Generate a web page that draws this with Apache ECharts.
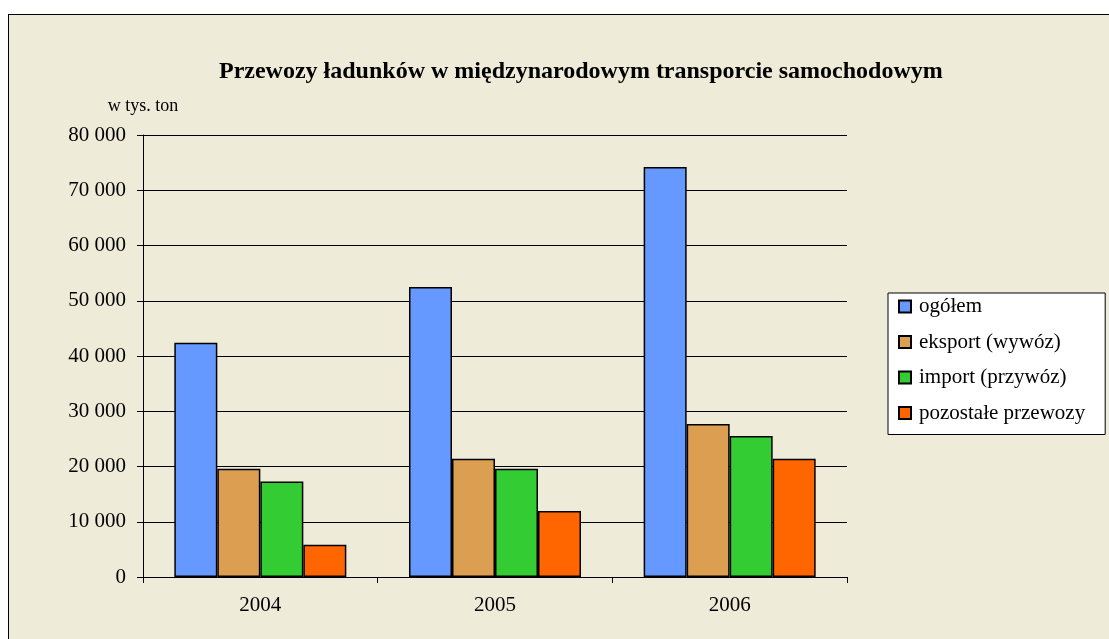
<!DOCTYPE html>
<html>
<head>
<meta charset="utf-8">
<script src="https://cdn.jsdelivr.net/npm/echarts@6/dist/echarts.min.js"></script>
<style>
    html, body { margin: 0; padding: 0; background: #fff; overflow: hidden; }
    #frame { position: absolute; left: 8px; top: 14px; width: 1120px; height: 640px;
             border: 1px solid #000; background: #EFEBD9; }
    #main { position: absolute; left: 0; top: 0; width: 1109px; height: 639px; }
</style>
</head>
<body>
<div id="frame"></div>
<div id="main"></div>
<script>
    // dane (tys. ton)
    var years = ['2004', '2005', '2006'];
    var ogolem = [42400, 52500, 74200];
    var eksport = [19600, 21400, 27700];
    var importVals = [17300, 19600, 25500];
    var pozostale = [5850, 11950, 21400];
    var seriesNames = ['ogółem', 'eksport (wywóz)', 'import (przywóz)', 'pozostałe przewozy'];
    var colors = ['#6699FF', '#DC9E50', '#33CC33', '#FF6600'];

    var font = '"Liberation Serif", "Times New Roman", serif';

    function fmt(v) {
        return String(v).replace(/\B(?=(\d{3})+(?!\d))/g, ' ');
    }

    var chartDom = document.getElementById('main');
    var myChart = echarts.init(chartDom);
    var allData = [ogolem, eksport, importVals, pozostale];

    var option = {
        backgroundColor: 'transparent',
        animation: false,
        color: colors,
        title: {
            text: 'Przewozy ładunków w międzynarodowym transporcie samochodowym',
            left: 214,
            top: 55,
            textStyle: {fontFamily: font, fontSize: 24, fontWeight: 'bold', color: '#000'}
        },
        legend: {
            orient: 'vertical',
            left: 888,
            top: 293,
            backgroundColor: '#fff',
            borderColor: '#000',
            borderWidth: 1,
            borderRadius: 0,
            padding: [3, 20, 11, 10],
            itemWidth: 12,
            itemHeight: 12,
            itemGap: 14.5,
            icon: 'rect',
            data: seriesNames,
            textStyle: {fontFamily: font, fontSize: 21, color: '#000', padding: [0, 0, 0, 3]}
        },
        grid: {left: 143, right: 262, top: 135, bottom: 62},
        xAxis: {
            type: 'category',
            data: years,
            axisLine: {lineStyle: {color: '#000', width: 1}},
            axisTick: {show: true, length: 6, lineStyle: {color: '#000'}},
            axisLabel: {fontFamily: font, fontSize: 21, color: '#000', margin: 18}
        },
        yAxis: {
            type: 'value',
            min: 0,
            max: 80000,
            interval: 10000,
            name: 'w tys. ton',
            nameLocation: 'end',
            nameGap: 20,
            nameTextStyle: {fontFamily: font, fontSize: 18, color: '#000', align: 'center'},
            axisLine: {show: true, lineStyle: {color: '#000', width: 1}},
            axisTick: {show: true, length: 6, lineStyle: {color: '#000'}},
            axisLabel: {fontFamily: font, fontSize: 21, color: '#000', margin: 17, formatter: fmt},
            splitLine: {show: true, lineStyle: {color: '#000', width: 1}}
        },
        series: seriesNames.map(function (n, i) {
            return {
                name: n,
                type: 'bar',
                data: allData[i],
                barGap: '0%',
                barCategoryGap: '26.7%',
                itemStyle: {color: colors[i], borderColor: '#000', borderWidth: 1.5}
            };
        })
    };
    myChart.setOption(option);
</script>
</body>
</html>
